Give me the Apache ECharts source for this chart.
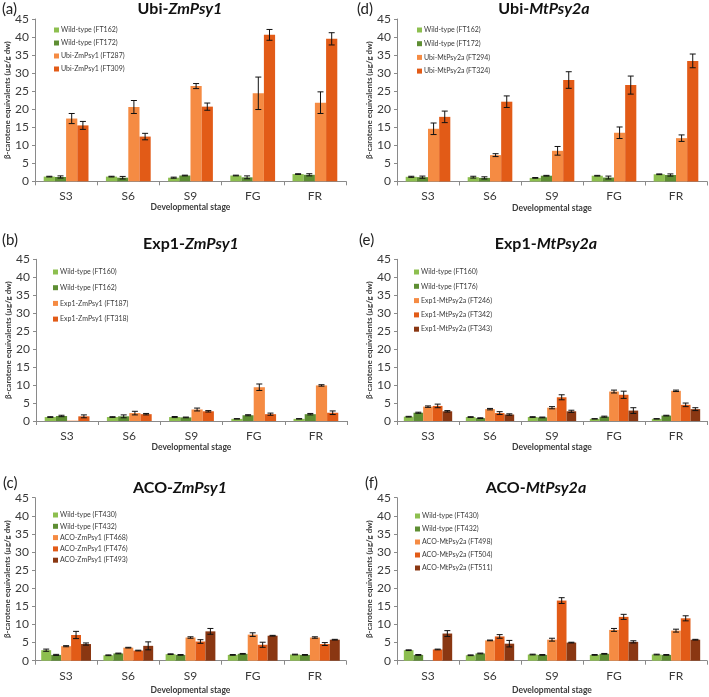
<!DOCTYPE html>
<html><head><meta charset="utf-8">
<script src="https://cdn.jsdelivr.net/npm/echarts@6/dist/echarts.min.js"></script>
<style>html,body{margin:0;padding:0;background:#fff}#c{width:709px;height:697px}</style>
</head><body><div id="c"></div>
<script>
// ---------- DATA ----------
const categories = ['S3', 'S6', 'S9', 'FG', 'FR'];
const yMin = 0, yMax = 45, yStep = 5;

// (a) Ubi-ZmPsy1
const aNames = ['Wild-type (FT162)', 'Wild-type (FT172)', 'Ubi-ZmPsy1 (FT287)', 'Ubi-ZmPsy1 (FT309)'];
const aFT162 = [1.3, 1.3, 1.0, 1.6, 2.0];
const aFT162Err = [0.1, 0.1, 0.15, 0.1, 0.1];
const aFT172 = [1.2, 1.0, 1.6, 1.1, 1.8];
const aFT172Err = [0.3, 0.35, 0.1, 0.4, 0.3];
const aFT287 = [17.4, 20.6, 26.4, 24.4, 21.8];
const aFT287Err = [1.4, 1.8, 0.7, 4.5, 3.0];
const aFT309 = [15.5, 12.4, 20.7, 40.6, 39.5];
const aFT309Err = [1.1, 0.9, 1.0, 1.5, 1.7];

// (d) Ubi-MtPsy2a
const dNames = ['Wild-type (FT162)', 'Wild-type (FT172)', 'Ubi-MtPsy2a (FT294)', 'Ubi-MtPsy2a (FT324)'];
const dFT162 = [1.3, 1.2, 1.0, 1.6, 2.0];
const dFT162Err = [0.15, 0.25, 0.1, 0.1, 0.1];
const dFT172 = [1.2, 1.0, 1.6, 1.1, 1.8];
const dFT172Err = [0.3, 0.3, 0.1, 0.4, 0.3];
const dFT294 = [14.6, 7.3, 8.5, 13.5, 12.0];
const dFT294Err = [1.6, 0.4, 1.2, 1.6, 0.9];
const dFT324 = [17.9, 22.1, 28.1, 26.7, 33.4];
const dFT324Err = [1.6, 1.6, 2.3, 2.5, 1.9];

// (b) Exp1-ZmPsy1
const bNames = ['Wild-type (FT160)', 'Wild-type (FT162)', 'Exp1-ZmPsy1 (FT187)', 'Exp1-ZmPsy1 (FT318)'];
const bFT160 = [1.1, 1.1, 1.1, 0.6, 0.6];
const bFT160Err = [0.1, 0.1, 0.15, 0.05, 0.05];
const bFT162 = [1.4, 1.3, 1.0, 1.6, 1.9];
const bFT162Err = [0.2, 0.4, 0.1, 0.15, 0.2];
const bFT187 = [0.1, 2.2, 3.2, 9.4, 9.9];
const bFT187Err = [0, 0.5, 0.4, 0.9, 0.2];
const bFT318 = [1.3, 1.9, 2.7, 1.9, 2.3];
const bFT318Err = [0.4, 0.2, 0.2, 0.3, 0.5];

// (e) Exp1-MtPsy2a
const eNames = ['Wild-type (FT160)', 'Wild-type (FT176)', 'Exp1-MtPsy2a (FT246)', 'Exp1-MtPsy2a (FT342)', 'Exp1-MtPsy2a (FT343)'];
const eFT160 = [1.2, 1.1, 1.1, 0.6, 0.6];
const eFT160Err = [0.1, 0.1, 0.1, 0.05, 0.05];
const eFT176 = [2.3, 0.8, 1.0, 1.2, 1.5];
const eFT176Err = [0.15, 0.1, 0.1, 0.15, 0.1];
const eFT246 = [4.0, 3.3, 3.7, 8.2, 8.4];
const eFT246Err = [0.2, 0.2, 0.3, 0.4, 0.2];
const eFT342 = [4.2, 2.2, 6.6, 7.3, 4.5];
const eFT342Err = [0.5, 0.4, 0.7, 1.0, 0.5];
const eFT343 = [2.7, 1.8, 2.7, 2.9, 3.3];
const eFT343Err = [0.2, 0.2, 0.3, 0.8, 0.4];

// (c) ACO-ZmPsy1
const cNames = ['Wild-type (FT430)', 'Wild-type (FT432)', 'ACO-ZmPsy1 (FT468)', 'ACO-ZmPsy1 (FT476)', 'ACO-ZmPsy1 (FT493)'];
const cFT430 = [2.9, 1.5, 1.8, 1.6, 1.7];
const cFT430Err = [0.3, 0.1, 0.1, 0.1, 0.1];
const cFT432 = [1.6, 2.0, 1.6, 1.9, 1.6];
const cFT432Err = [0.15, 0.1, 0.1, 0.1, 0.1];
const cFT468 = [4.0, 3.6, 6.4, 7.2, 6.4];
const cFT468Err = [0.15, 0.1, 0.2, 0.5, 0.2];
const cFT476 = [7.1, 2.8, 5.3, 4.4, 4.6];
const cFT476Err = [1.0, 0.1, 0.5, 0.7, 0.4];
const cFT493 = [4.6, 4.1, 8.1, 6.9, 5.8];
const cFT493Err = [0.3, 1.1, 0.8, 0.1, 0.1];

// (f) ACO-MtPsy2a
const fNames = ['Wild-type (FT430)', 'Wild-type (FT432)', 'ACO-MtPsy2a (FT498)', 'ACO-MtPsy2a (FT504)', 'ACO-MtPsy2a (FT511)'];
const fFT430 = [2.9, 1.5, 1.7, 1.6, 1.7];
const fFT430Err = [0.1, 0.1, 0.1, 0.1, 0.1];
const fFT432 = [1.6, 2.0, 1.6, 1.9, 1.6];
const fFT432Err = [0.1, 0.1, 0.1, 0.1, 0.1];
const fFT498 = [null, 5.6, 5.8, 8.5, 8.3];
const fFT498Err = [null, 0.1, 0.4, 0.4, 0.4];
const fFT504 = [3.1, 6.7, 16.6, 12.1, 11.7];
const fFT504Err = [0.1, 0.5, 0.8, 0.7, 0.7];
const fFT511 = [7.5, 4.7, 5.0, 5.2, 5.8];
const fFT511Err = [0.8, 0.9, 0.1, 0.3, 0.1];

const yAxisTitle = 'β-carotene equivalents (µg/g dw)';
const xAxisTitle = 'Developmental stage';

// ---------- STYLE / LAYOUT ----------
const FONT = 'Lato, "Open Sans", sans-serif';
const colors = ['#8dbf4f', '#5e8e33', '#f58b43', '#e25b17', '#8a3712'];
const axisColor = '#8a8a8a';
const textColor = '#3a3a3a';

const panels = [
  { letter: '(a)', pre: 'Ubi-', gene: 'ZmPsy1', names: aNames,
    vals: [aFT162, aFT172, aFT287, aFT309], errs: [aFT162Err, aFT172Err, aFT287Err, aFT309Err],
    grid: { left: 35, top: 19, width: 311, height: 162.3 }, gap: 0.28,
    titleX: 180, titleY: 9, letterX: 2, letterY: 9, legendLeft: 49, legendTop: 21, legendGap: 5, xNameGap: 18 },
  { letter: '(d)', pre: 'Ubi-', gene: 'MtPsy2a', names: dNames,
    vals: [dFT162, dFT172, dFT294, dFT324], errs: [dFT162Err, dFT172Err, dFT294Err, dFT324Err],
    grid: { left: 397, top: 19, width: 310, height: 162.5 }, gap: 0.28,
    titleX: 544, titleY: 9, letterX: 357, letterY: 9, legendLeft: 412, legendTop: 21, legendGap: 5.7, xNameGap: 18 },
  { letter: '(b)', pre: 'Exp1-', gene: 'ZmPsy1', names: bNames,
    vals: [bFT160, bFT162, bFT187, bFT318], errs: [bFT160Err, bFT162Err, bFT187Err, bFT318Err],
    grid: { left: 36, top: 259.3, width: 311, height: 161.7 }, gap: 0.28,
    titleX: 191, titleY: 244, letterX: 2, letterY: 240, legendLeft: 48, legendTop: 263, legendGap: 7.7, xNameGap: 21 },
  { letter: '(e)', pre: 'Exp1-', gene: 'MtPsy2a', names: eNames,
    vals: [eFT160, eFT176, eFT246, eFT342, eFT343], errs: [eFT160Err, eFT176Err, eFT246Err, eFT342Err, eFT343Err],
    grid: { left: 397, top: 259.3, width: 310, height: 161.7 }, gap: 0.22,
    titleX: 546, titleY: 244, letterX: 359, letterY: 240, legendLeft: 409, legendTop: 263, legendGap: 6.3, xNameGap: 21 },
  { letter: '(c)', pre: 'ACO-', gene: 'ZmPsy1', names: cNames,
    vals: [cFT430, cFT432, cFT468, cFT476, cFT493], errs: [cFT430Err, cFT432Err, cFT468Err, cFT476Err, cFT493Err],
    grid: { left: 35, top: 497.7, width: 311, height: 163 }, gap: 0.2,
    titleX: 180, titleY: 488, letterX: 3, letterY: 483, legendLeft: 48, legendTop: 506, legendGap: 3.3, xNameGap: 25 },
  { letter: '(f)', pre: 'ACO-', gene: 'MtPsy2a', names: fNames,
    vals: [fFT430, fFT432, fFT498, fFT504, fFT511], errs: [fFT430Err, fFT432Err, fFT498Err, fFT504Err, fFT511Err],
    grid: { left: 397, top: 497.7, width: 310, height: 163 }, gap: 0.22,
    titleX: 536, titleY: 488, letterX: 365, letterY: 483, legendLeft: 410, legendTop: 507, legendGap: 5, xNameGap: 25 }
];

function errRender(n, idx, gapFrac) {
  return function (params, api) {
    const ci = api.value(0), v = api.value(1), e = api.value(2);
    if (v == null || isNaN(v) || e == null || isNaN(e) || e <= 0) return null;
    const band = api.size([1, 0])[0];
    const total = band * (1 - gapFrac);
    const bw = total / n;
    const c = api.coord([ci, v]);
    const x = c[0] - total / 2 + bw * (idx + 0.5);
    const top = api.coord([ci, v + e])[1];
    const bot = api.coord([ci, Math.max(v - e, 0)])[1];
    const cap = 3;
    const st = { stroke: '#111', lineWidth: 1 };
    return { type: 'group', children: [
      { type: 'line', shape: { x1: x, y1: top, x2: x, y2: bot }, style: st },
      { type: 'line', shape: { x1: x - cap, y1: top, x2: x + cap, y2: top }, style: st },
      { type: 'line', shape: { x1: x - cap, y1: bot, x2: x + cap, y2: bot }, style: st }
    ] };
  };
}

const option = { animation: false, backgroundColor: '#fff', grid: [], xAxis: [], yAxis: [], series: [], legend: [], graphic: [] };

panels.forEach((p, gi) => {
  option.grid.push(Object.assign({ containLabel: false }, p.grid));
  option.xAxis.push({
    type: 'category', gridIndex: gi, data: categories,
    axisLine: { lineStyle: { color: axisColor, width: 1 } },
    axisTick: { show: true, length: 4, lineStyle: { color: axisColor } },
    axisLabel: { color: textColor, fontSize: 12, fontFamily: FONT, margin: 9 },
    name: xAxisTitle, nameLocation: 'middle', nameGap: p.xNameGap,
    nameTextStyle: { fontSize: 8.5, fontWeight: 'bold', color: textColor, fontFamily: FONT }
  });
  option.yAxis.push({
    type: 'value', gridIndex: gi, min: yMin, max: yMax, interval: yStep,
    axisLine: { show: true, lineStyle: { color: axisColor, width: 1 } },
    axisTick: { show: true, length: 3, lineStyle: { color: axisColor } },
    splitLine: { show: false },
    axisLabel: { color: textColor, fontSize: 12, fontFamily: FONT, margin: 6 },
    name: yAxisTitle, nameLocation: 'middle', nameRotate: 90, nameGap: 23,
    nameTextStyle: { fontSize: 8, fontWeight: 'bold', color: textColor, fontFamily: FONT }
  });
  const n = p.names.length;
  p.names.forEach((nm, si) => {
    option.series.push({
      type: 'bar', name: nm, xAxisIndex: gi, yAxisIndex: gi,
      data: p.vals[si], barGap: '0%', barCategoryGap: (p.gap * 100) + '%',
      itemStyle: { color: colors[si] }, silent: true
    });
  });
  p.names.forEach((nm, si) => {
    option.series.push({
      type: 'custom', name: 'err' + gi + '_' + si, xAxisIndex: gi, yAxisIndex: gi,
      renderItem: errRender(n, si, p.gap), silent: true, z: 5,
      data: categories.map((c, ci) => [ci, p.vals[si][ci], p.errs[si][ci]])
    });
  });
  option.legend.push({
    orient: 'vertical', left: p.legendLeft, top: p.legendTop, itemGap: p.legendGap,
    itemWidth: 5, itemHeight: 5, icon: 'rect', selectedMode: false,
    textStyle: { fontSize: 7, color: textColor, fontFamily: FONT, lineHeight: 8, padding: [0, 0, 0, -3] },
    data: p.names.map((nm, si) => ({ name: nm, itemStyle: { color: colors[si] } }))
  });
  option.graphic.push({
    type: 'text', x: p.titleX, y: p.titleY,
    style: { text: '{n|' + p.pre + '}{i|' + p.gene + '}', align: 'center', verticalAlign: 'middle',
      rich: { n: { fontSize: 16, fontWeight: 'bold', fontFamily: FONT, fill: '#111' },
              i: { fontSize: 16, fontWeight: 'bold', fontStyle: 'italic', fontFamily: FONT, fill: '#111' } } }
  });
  option.graphic.push({
    type: 'text', x: p.letterX, y: p.letterY,
    style: { text: p.letter, verticalAlign: 'middle', fontSize: 15, fontFamily: FONT, fill: '#222' }
  });
});

const chart = echarts.init(document.getElementById('c'), null, { renderer: 'canvas' });
chart.setOption(option);
</script></body></html>
